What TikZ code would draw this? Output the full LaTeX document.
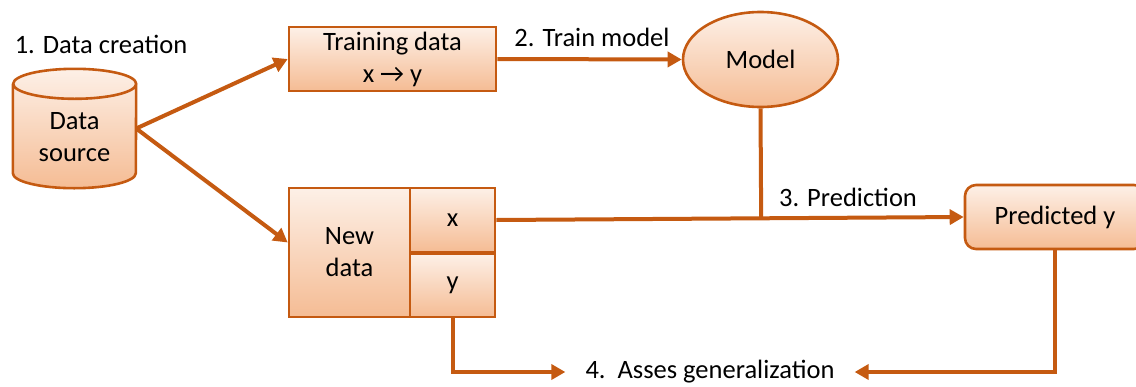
\documentclass[tikz,border=0pt]{standalone}
\usepackage{fontspec}
\setmainfont{Carlito}
\usetikzlibrary{arrows.meta,shapes.geometric,calc}
\definecolor{oc}{RGB}{197,90,17}
\definecolor{lt}{RGB}{253,240,231}
\definecolor{dk}{RGB}{245,188,148}
\begin{document}
\begin{tikzpicture}[x=1pt,y=-1pt,
  every node/.style={font=\fontsize{26.5}{32}\selectfont, align=center},
  boxnode/.style={draw=oc, line width=2.6pt, top color=lt, bottom color=dk, inner sep=0pt},
  conn/.style={draw=oc, line width=4pt},
  arr/.style={conn, -{Triangle[length=14pt,width=15pt]}},
  lbl/.style={inner sep=0pt}]
\useasboundingbox (0,0) rectangle (1136,386);
% data source cylinder
\node[inner sep=0pt, minimum width=123pt, minimum height=89pt] (ds) at (74.5,128.5) {};
\path[top color=lt, bottom color=dk]
  (ds.north west) -- (ds.south west) arc[start angle=180, end angle=0, x radius=61.5, y radius=15]
  -- (ds.north east) arc[start angle=0, end angle=-180, x radius=61.5, y radius=15] -- cycle;
\draw[draw=oc, line width=2.6pt, line join=round]
  (ds.north west) -- (ds.south west) arc[start angle=180, end angle=0, x radius=61.5, y radius=15]
  -- (ds.north east) arc[start angle=0, end angle=-180, x radius=61.5, y radius=15]
  arc[start angle=180, end angle=0, x radius=61.5, y radius=15];
\node[lbl] (dstext) at (74.5,137) {Data\\source};
\node[lbl] (l1) at (101,44) {1. Data creation};
% boxes
\node[boxnode, minimum width=207pt, minimum height=64pt] (train) at (392.5,59) {Training data\\x → y};
\node[boxnode, ellipse, minimum width=155pt, minimum height=95pt] (model) at (760.5,59.5) {Model};
\node[boxnode, minimum width=121pt, minimum height=129pt] (nd) at (349.5,252.5) {New\\data};
\node[boxnode, minimum width=85pt, minimum height=64pt] (xn) at (452.5,220) {x};
\node[boxnode, minimum width=85pt, minimum height=63pt] (yn) at (452.5,285.5) {y};
\node[boxnode, rounded corners=11pt, minimum width=180pt, minimum height=64pt] (pred) at (1055,217) {Predicted y};
% labels
\node[lbl] (l2) at (592,37) {2. Train model};
\node[lbl] (l3) at (848,197) {3. Prediction};
\node[inner xsep=20pt, inner ysep=0pt] (gen) at (710,372) {4.\hspace{0.45em}Asses generalization};
% connectors
\draw[arr] (ds.east) -- (train.west);
\draw[arr] (ds.east) -- ([yshift=10pt]nd.west);
\draw[arr] (train.east) -- (model.west);
\draw[arr] (xn.east) -- (pred.west);
\coordinate (join) at ($(xn.east)!(model.south)!(pred.west)$);
\draw[conn] (model.south) -- (join);
\draw[arr] (yn.south) |- (gen.west);
\draw[arr] (pred.south) |- (gen.east);
\end{tikzpicture}
\end{document}
